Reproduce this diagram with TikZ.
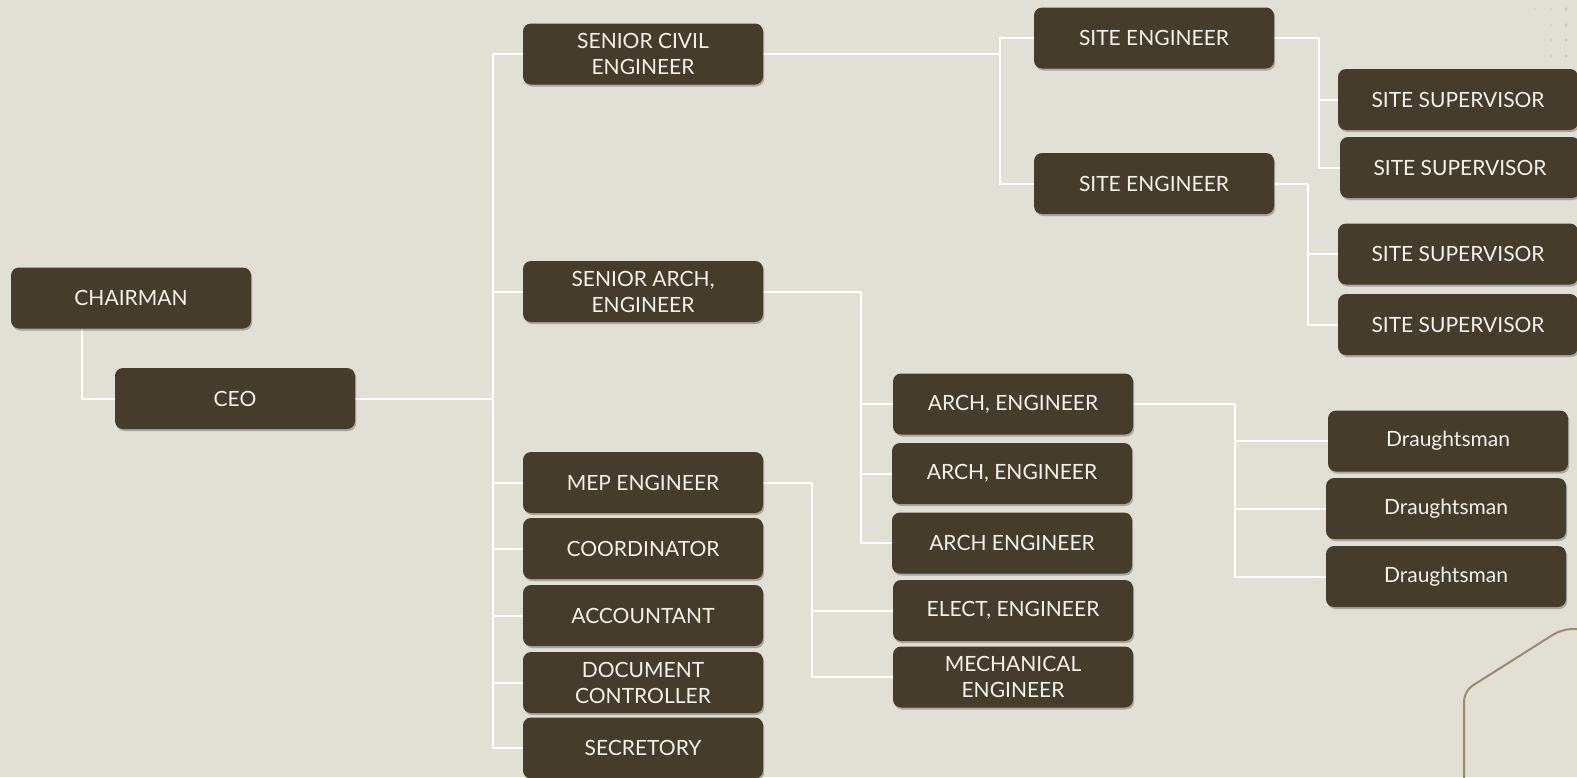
\documentclass[tikz,border=0pt]{standalone}
\usepackage{fontspec}
\setmainfont{Lato}
\usetikzlibrary{shadows,backgrounds}
\definecolor{paper}{RGB}{226,223,213}
\definecolor{boxbrown}{RGB}{69,60,44}
\definecolor{boxtext}{RGB}{246,243,236}
\definecolor{decoline}{RGB}{154,139,108}
\definecolor{dotgold}{RGB}{214,196,150}

\begin{document}
\begin{tikzpicture}[x=0.5pt, y=-0.5pt,
    post/.style={draw=none, fill=boxbrown, text=boxtext, rounded corners=4pt,
        minimum width=120pt, minimum height=30.5pt, inner sep=2pt, align=center,
        font=\fontsize{10.5}{13}\selectfont,
        drop shadow={shadow xshift=0.6pt, shadow yshift=-1pt, opacity=0.25, fill=black}},
    link/.style={draw=white, line width=1pt}]
    \useasboundingbox (0,0) rectangle (1577,777);

    % Boxes
    \node[post] (chair) at (131,298) {CHAIRMAN};
    \node[post] (ceo) at (235,398.5) {CEO};

    \node[post] (civil) at (643,54) {SENIOR CIVIL\\ENGINEER};
    \node[post] (sarch) at (643,291.5) {SENIOR ARCH,\\ENGINEER};
    \node[post] (mep) at (643,482.5) {MEP ENGINEER};
    \node[post] (coord) at (643,548.5) {COORDINATOR};
    \node[post] (acct) at (643,615.5) {ACCOUNTANT};
    \node[post] (doc) at (643,682.5) {DOCUMENT\\CONTROLLER};
    \node[post] (sec) at (643,748) {SECRETORY};

    \node[post] (arch1) at (1013,404) {ARCH, ENGINEER};
    \node[post] (arch2) at (1012,473.5) {ARCH, ENGINEER};
    \node[post] (arch3) at (1012,543) {ARCH ENGINEER};
    \node[post] (elect) at (1013,610.5) {ELECT, ENGINEER};
    \node[post] (mech) at (1013,677) {MECHANICAL\\ENGINEER};

    \node[post] (site1) at (1154,38) {SITE ENGINEER};
    \node[post] (site2) at (1154,183.5) {SITE ENGINEER};

    \node[post] (ss1) at (1458,99.5) {SITE SUPERVISOR};
    \node[post] (ss2) at (1460,167.5) {SITE SUPERVISOR};
    \node[post] (ss3) at (1458,254) {SITE SUPERVISOR};
    \node[post] (ss4) at (1458,324.5) {SITE SUPERVISOR};

    \node[post] (d1) at (1448,441) {Draughtsman};
    \node[post] (d2) at (1446,508.5) {Draughtsman};
    \node[post] (d3) at (1446,576.5) {Draughtsman};

    % Connector joints
    \coordinate (trunk) at (493,398.5);
    \coordinate (archjoint) at (861,291.5);
    \coordinate (mepjoint) at (812,482.5);
    \coordinate (civiljoint) at (1000,54);
    \coordinate (siteAjoint) at (1319,38);
    \coordinate (siteBjoint) at (1308,183.5);
    \coordinate (draftjoint) at (1235,404);

    \begin{scope}[on background layer]
    % Paper and corner ornaments
    \fill[paper] (0,0) rectangle (1577,777);
    \foreach \y in {9,25,40,56} {
        \fill[dotgold, opacity=0.7] (1566,\y) circle (0.9pt);
        \fill[dotgold, opacity=0.45] (1551,\y) circle (0.8pt);
    }
    \fill[dotgold, opacity=0.3] (1535,9) circle (0.7pt);
    \draw[decoline, line width=1pt, rounded corners=5pt] (1464,800) -- (1464,691) -- (1562,629) -- (1600,629);

    % Links
    \draw[link] ([xshift=35.5pt]chair.south west) |- (ceo.west);
    \draw[link] (ceo.east) -- (trunk);
    \foreach \n in {civil,sarch,mep,coord,acct,doc,sec}
        \draw[link] (\n.west) -| (trunk);
    \draw[link] (sarch.east) -- (archjoint);
    \foreach \n in {arch1,arch2,arch3}
        \draw[link] (\n.west) -| (archjoint);
    \draw[link] (mep.east) -- (mepjoint);
    \foreach \n in {elect,mech}
        \draw[link] (\n.west) -| (mepjoint);
    \draw[link] (civil.east) -- (civiljoint);
    \foreach \n in {site1,site2}
        \draw[link] (\n.west) -| (civiljoint);
    \draw[link] (site1.east) -- (siteAjoint);
    \foreach \n in {ss1,ss2}
        \draw[link] (\n.west) -| (siteAjoint);
    \draw[link] (site2.east) -- (siteBjoint);
    \foreach \n in {ss3,ss4}
        \draw[link] (\n.west) -| (siteBjoint);
    \draw[link] (arch1.east) -- (draftjoint);
    \foreach \n in {d1,d2,d3}
        \draw[link] (\n.west) -| (draftjoint);
    \end{scope}
\end{tikzpicture}
\end{document}
